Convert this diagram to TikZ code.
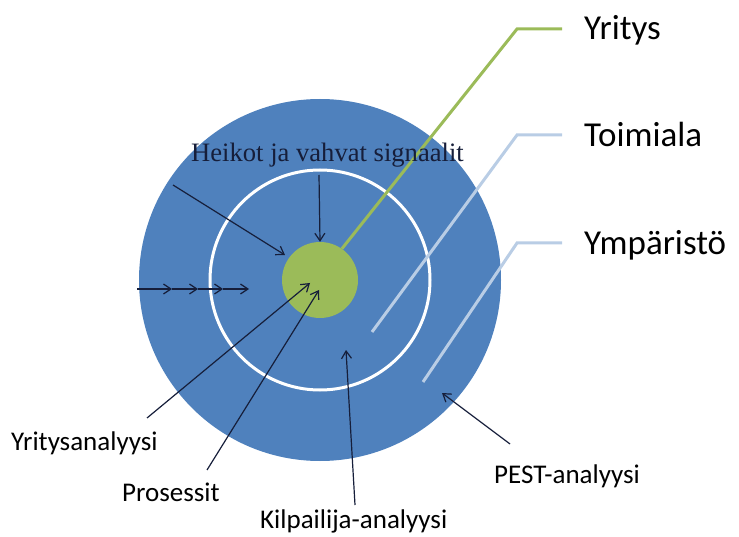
\documentclass[tikz,border=0pt]{standalone}
\usepackage{fontspec}
\setmainfont{Carlito}
\newfontfamily\signalfont{Liberation Serif}
\usetikzlibrary{arrows.meta}
\definecolor{ringblue}{HTML}{4F81BD}
\definecolor{coregreen}{HTML}{9BBB59}
\definecolor{paleblue}{HTML}{B9CDE5}
\definecolor{arrowink}{RGB}{22,30,58}
\tikzset{
  lbl/.style={inner sep=0pt,anchor=base west,font=\fontsize{27}{32}\selectfont},
  biglbl/.style={inner sep=0pt,anchor=base west,font=\fontsize{35}{40}\selectfont},
  sig/.style={draw=arrowink,line width=1.2pt,->},
  leader/.style={line width=3pt}
}
\begin{document}
\begin{tikzpicture}[x=1pt,y=-1pt,>={Straight Barb[length=7.5pt,width=10pt]}]
\useasboundingbox (0,0) rectangle (739,537);
% rings
\node[circle,fill=ringblue,inner sep=0pt,minimum size=362pt] (env) at (320,280) {};
\node[circle,draw=white,line width=3pt,inner sep=0pt,minimum size=220pt] (ind) at (env.center) {};
\node[circle,fill=coregreen,inner sep=0pt,minimum size=76pt] (core) at (env.center) {};

% leader lines to the names on the right
\coordinate (yrend) at (562,29);
\coordinate (toend) at (562,135);
\coordinate (ymend) at (562,243);
\draw[leader,coregreen] (core.55) -- (517,29) -- (yrend);
\draw[leader,paleblue] (372,332) -- (517,135) -- (toend);
\draw[leader,paleblue] (423,382) -- (517,243) -- (ymend);
\node[biglbl] (yrlab) at (584,40) {Yritys};
\node[biglbl] (tolab) at (584,146.5) {Toimiala};
\node[biglbl] (ymlab) at (584,254.5) {Ympäristö};

% signals
\node[inner sep=0pt,anchor=base west,text=arrowink,font=\signalfont\fontsize{26.6}{30}\selectfont] (signals) at (191,162) {Heikot ja vahvat signaalit};
\draw[sig] (319,175) -- (core.north);
\draw[sig] (173,185) -- (285,255);
\foreach \xa/\xb in {137/172,172/198,198/223,223/249} {
  \draw[sig] (\xa,289) -- (\xb,289);
}

% analyses
\node[lbl] (yrana) at (11,450) {Yritysanalyysi};
\node[lbl] (proc) at (122,501) {Prosessit};
\node[lbl] (comp) at (260,528) {Kilpailija-analyysi};
\node[lbl] (pest) at (494,483) {PEST-analyysi};
\coordinate (yratail) at (147,418);
\coordinate (proctail) at (207,470);
\coordinate (comptail) at (355,505);
\coordinate (pesttail) at (510,444);
\draw[sig] (yratail) -- (310,283);
\draw[sig] (proctail) -- (319,290);
\draw[sig] (comptail) -- (346,350);
\draw[sig] (pesttail) -- (442,393);
\end{tikzpicture}
\end{document}
